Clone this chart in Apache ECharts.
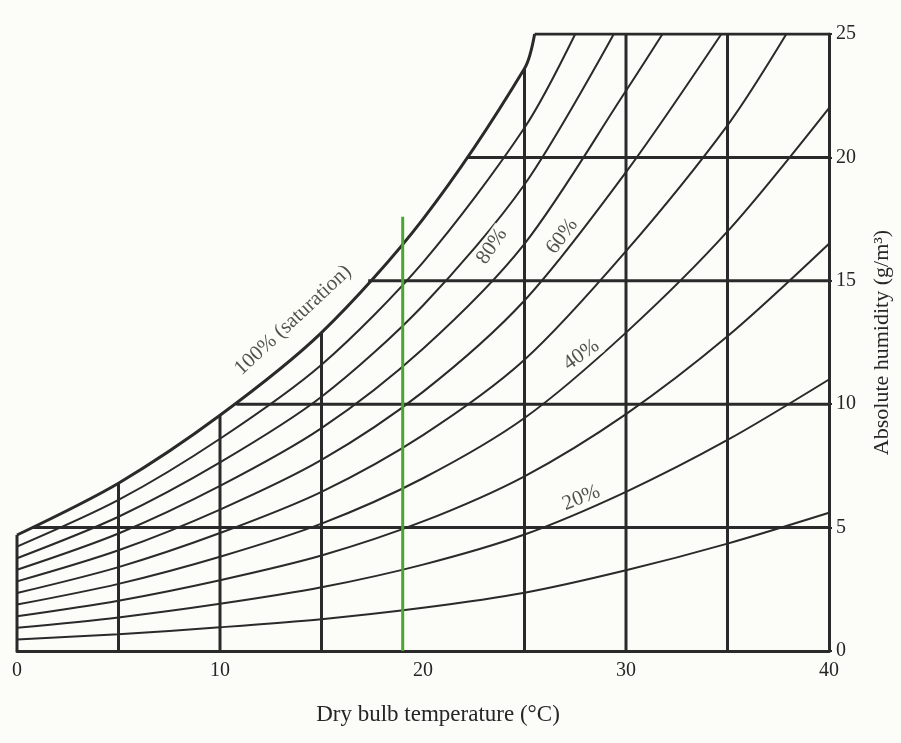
<!DOCTYPE html>
<html>
<head>
<meta charset="utf-8">
<script src="https://cdn.jsdelivr.net/npm/echarts/dist/echarts.min.js"></script>
<style>
html,body{margin:0;padding:0;background:#fcfcf8;}
#chart{width:901px;height:743px;}
</style>
</head>
<body>
<div id="chart"></div>
<script>
// ---- data ----
const xTicks = [0, 10, 20, 30, 40];
const yTicks = [0, 5, 10, 15, 20, 25];

// saturation (100%) curve [temperature, absolute humidity]
const saturation = [[0,4.7],[5,6.8],[10,9.55],[15,12.9],[20,17.5],[25,23.6],[25.5,25]];

// relative humidity curves [temperature, absolute humidity]
const rh90 = [[0,4.23],[5,6.12],[10,8.6],[15,11.6],[20,15.75],[25,21.2],[27.5,25]];
const rh80 = [[0,3.76],[5,5.44],[10,7.64],[15,10.3],[20,14.0],[25,18.9],[29.4,25]];
const rh70 = [[0,3.29],[5,4.76],[10,6.69],[15,9.03],[20,12.25],[25,16.5],[30,22.7],[31.8,25]];
const rh60 = [[0,2.82],[5,4.08],[10,5.73],[15,7.74],[20,10.5],[25,14.2],[30,19.4],[34.7,25]];
const rh50 = [[0,2.35],[5,3.4],[10,4.78],[15,6.45],[20,8.75],[25,11.8],[30,16.2],[35,21.3],[37.9,25]];
const rh40 = [[0,1.88],[5,2.72],[10,3.82],[15,5.16],[20,7.0],[25,9.44],[30,12.9],[35,17.0],[40,22.0]];
const rh30 = [[0,1.41],[5,2.04],[10,2.87],[15,3.87],[20,5.25],[25,7.08],[30,9.6],[35,12.75],[40,16.5]];
const rh20 = [[0,0.94],[5,1.36],[10,1.91],[15,2.58],[20,3.5],[25,4.72],[30,6.45],[35,8.55],[40,11.0]];
const rh10 = [[0,0.47],[5,0.68],[10,0.96],[15,1.29],[20,1.75],[25,2.36],[30,3.27],[35,4.35],[40,5.6]];

// vertical grid lines: [temperature, top humidity]
const verticalLines = [[0,4.7],[5,6.8],[10,9.55],[15,12.9],[25,23.6],[30,25],[35,25]];
// horizontal grid lines: [start temperature, humidity level]
const horizontalLines = [[0.75,5],[10.8,10],[17.3,15],[22.2,20],[25.5,25]];

// marked temperature (green line)
const markedTemp = [[19,0],[19,17.6]];

// curve labels: [text, temperature, humidity]
const curveLabels = [
  ['100% (saturation)', 13.6, 13.4],
  ['80%', 23.4, 16.4],
  ['60%', 26.85, 16.8],
  ['40%', 27.8, 12.0],
  ['20%', 27.8, 6.2]
];
const labelAngles = [43, 56, 53, 35, 22];

// ---- chart ----
const ink = '#2a2a2a';
const textColor = '#262626';
const bg = '#fcfcf8';
const font = '"Liberation Serif", "DejaVu Serif", serif';

const series = [];
function lineSeries(data, width, color, smooth, z) {
  return {
    type: 'line', data: data, showSymbol: false, symbol: 'none',
    smooth: smooth ? 0.3 : false,
    lineStyle: {color: color || ink, width: width}, silent: true,
    z: z || 2, animation: false
  };
}
verticalLines.forEach(function(v){
  series.push(lineSeries([[v[0],0],[v[0],v[1]]], 3, ink, false, 3));
});
horizontalLines.forEach(function(h){
  series.push(lineSeries([[h[0],h[1]],[40,h[1]]], 3, ink, false, 3));
});
[rh90, rh80, rh70, rh60, rh50, rh40, rh30, rh20, rh10].forEach(function(c){
  series.push(lineSeries(c, 2, ink, true, 2));
});
series.push(lineSeries(saturation, 3, ink, true, 3));
series.push(lineSeries(markedTemp, 3, '#46a830', false, 4));
series.push({
  type: 'scatter', symbolSize: 0, silent: true, z: 10, animation: false,
  data: curveLabels.map(function(l, i){
    return {
      value: [l[1], l[2]],
      label: {
        show: true, position: 'inside', formatter: l[0], rotate: labelAngles[i],
        color: textColor, fontFamily: font, fontSize: 21,
        backgroundColor: bg, padding: [0, 2]
      }
    };
  })
});

const chart = echarts.init(document.getElementById('chart'), null, {renderer: 'canvas'});
chart.setOption({
  backgroundColor: bg,
  animation: false,
  grid: {left: 17, right: 72, top: 34, bottom: 92, containLabel: false},
  xAxis: {
    type: 'value', min: 0, max: 40, interval: 10,
    name: 'Dry bulb temperature (°C)', nameLocation: 'middle', nameGap: 52,
    nameTextStyle: {color: textColor, fontFamily: font, fontSize: 23, padding: [0, 0, 0, 30]},
    axisLine: {show: true, lineStyle: {color: ink, width: 3}},
    axisTick: {show: false},
    splitLine: {show: false},
    axisLabel: {color: textColor, fontFamily: font, fontSize: 20, margin: 10,
      formatter: function(v){ return xTicks.indexOf(v) >= 0 ? String(v) : ''; }}
  },
  yAxis: {
    type: 'value', position: 'right', min: 0, max: 25, interval: 5,
    name: 'Absolute humidity (g/m³)', nameLocation: 'middle', nameGap: 42, nameRotate: 90,
    nameTextStyle: {color: textColor, fontFamily: font, fontSize: 22},
    axisLine: {show: true, onZero: false, lineStyle: {color: ink, width: 3}},
    axisTick: {show: true, length: 3, lineStyle: {color: ink, width: 2}},
    splitLine: {show: false},
    axisLabel: {color: textColor, fontFamily: font, fontSize: 20, margin: 7,
      formatter: function(v){ return yTicks.indexOf(v) >= 0 ? String(v) : ''; }}
  },
  series: series
});
</script>
</body>
</html>
